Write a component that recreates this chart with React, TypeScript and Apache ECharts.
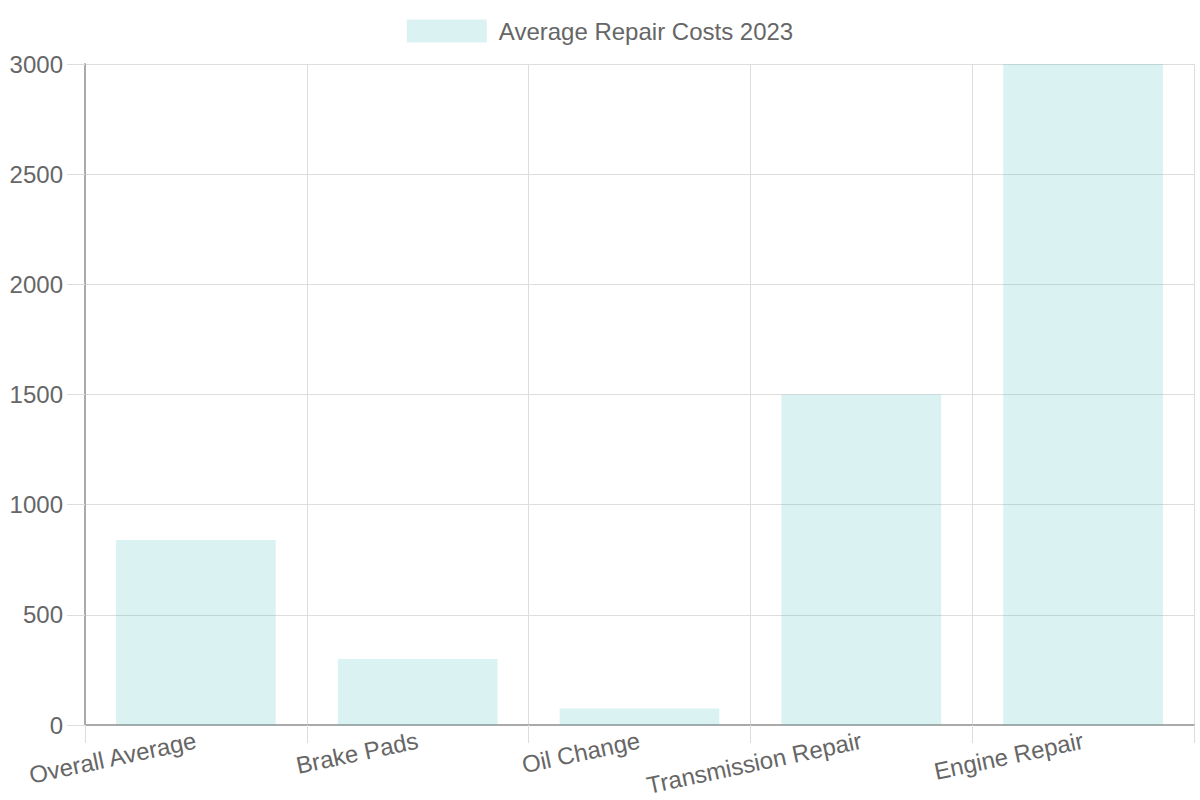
import React, { useEffect, useRef } from 'react'
import * as echarts from 'echarts'

const categories = ['Overall Average', 'Brake Pads', 'Oil Change', 'Transmission Repair', 'Engine Repair']
const costs = [840, 300, 75, 1500, 3000]
const seriesName = 'Average Repair Costs 2023'
const yTicks = { min: 0, max: 3000, interval: 500 }

const FONT = '"Liberation Sans", Arial, sans-serif'

const App: React.FC = () => {
  const chartRef = useRef<HTMLDivElement>(null)

  useEffect(() => {
    if (!chartRef.current) return
    const chart = echarts.init(chartRef.current, undefined, { renderer: 'svg' })

    const option = {
      animation: false,
      textStyle: { fontFamily: FONT },
      legend: {
        top: 14,
        left: 'center',
        itemWidth: 80,
        itemHeight: 23,
        itemGap: 12,
        icon: 'rect',
        textStyle: { fontSize: 24, lineHeight: 23, color: '#666', fontFamily: FONT, padding: [0, 0, 0, 7] },
        data: [seriesName]
      },
      grid: { left: 85, right: 6, top: 64, bottom: 75, outerBoundsMode: 'none' },
      xAxis: {
        type: 'category',
        data: categories,
        boundaryGap: true,
        axisLine: { lineStyle: { color: '#aaa', width: 2 } },
        axisTick: { show: true, length: 18, lineStyle: { color: '#ddd' } },
        splitLine: { show: true, interval: 0, lineStyle: { color: '#ddd' } },
        axisLabel: {
          rotate: 12,
          margin: 15,
          fontSize: 24,
          color: '#666',
          fontFamily: FONT,
          interval: 0
        }
      },
      yAxis: {
        type: 'value',
        min: yTicks.min,
        max: yTicks.max,
        interval: yTicks.interval,
        axisLine: { show: true, lineStyle: { color: '#aaa', width: 2 } },
        axisTick: { show: true, length: 18, lineStyle: { color: '#ddd' } },
        splitLine: { show: true, lineStyle: { color: '#ddd' } },
        axisLabel: {
          margin: 22,
          fontSize: 24,
          color: '#666',
          fontFamily: FONT,
          formatter: (v: number) => String(v)
        }
      },
      series: [
        {
          name: seriesName,
          type: 'bar',
          data: costs,
          barCategoryGap: '28%',
          itemStyle: { color: 'rgba(75, 192, 192, 0.2)' }
        }
      ]
    }

    chart.setOption(option)
    return () => {
      chart.dispose()
    }
  }, [])

  return (
    <div
      ref={chartRef}
      style={{ position: 'fixed', left: 0, top: 0, width: 1200, height: 800, background: '#fff' }}
    />
  )
}

export default App
